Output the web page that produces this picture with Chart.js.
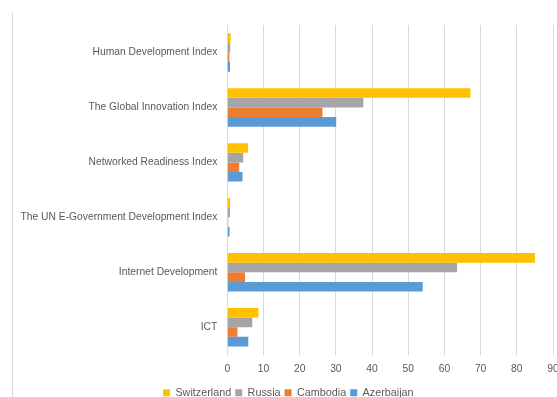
<!DOCTYPE html>
<html><head><meta charset="utf-8">
<script src="https://cdn.jsdelivr.net/npm/chart.js@4"></script>
<style>
html,body{margin:0;padding:0;background:#fff;overflow:hidden;width:557px;height:397px;}
#wrap{position:relative;width:580px;height:410px;}
#frame{position:absolute;left:12px;top:13px;width:1px;height:400px;background:#d9d9d9;}
</style></head><body>
<div id="wrap"><canvas id="c" width="580" height="410"></canvas><div id="frame"></div></div>
<script>
const categories = ["Human Development Index", "The Global Innovation Index", "Networked Readiness Index", "The UN E-Government Development Index", "Internet Development", "ICT"];
const switzerland = [0.94, 67.2, 5.7, 0.76, 85.0, 8.6];
const russia = [0.80, 37.6, 4.4, 0.73, 63.5, 6.9];
const cambodia = [0.56, 26.3, 3.3, 0.26, 4.9, 2.8];
const azerbaijan = [0.76, 30.1, 4.2, 0.63, 54.0, 5.8];
const xTicks = [0, 10, 20, 30, 40, 50, 60, 70, 80, 90];

const textColor = '#595959';
const legendShift = {
  id: 'legendShift',
  afterLayout(chart) {
    if (chart.legend) { chart.legend.left += 23.6; }
  }
};

new Chart(document.getElementById('c'), {
  type: 'bar',
  data: {
    labels: categories,
    datasets: [
      { label: 'Switzerland', data: switzerland, backgroundColor: '#FFC000' },
      { label: 'Russia', data: russia, backgroundColor: '#A5A5A5' },
      { label: 'Cambodia', data: cambodia, backgroundColor: '#ED7D31' },
      { label: 'Azerbaijan', data: azerbaijan, backgroundColor: '#5B9BD5' }
    ]
  },
  options: {
    indexAxis: 'y',
    responsive: false,
    animation: false,
    devicePixelRatio: 1,
    categoryPercentage: 0.7,
    barPercentage: 1.0,
    layout: { padding: { top: 25, right: 27, bottom: 1.75, left: 0 } },
    scales: {
      x: {
        min: 0, max: 90,
        afterBuildTicks(scale) { scale.ticks = xTicks.map(v => ({ value: v })); },
        afterFit(scale) { scale.height = 28.75; },
        grid: { color: '#D9D9D9', drawTicks: false, lineWidth: 1 },
        border: { display: false },
        ticks: { color: textColor, padding: 8, font: { family: 'Liberation Sans', size: 10.3 } }
      },
      y: {
        afterFit(scale) { scale.width = 227.3; },
        grid: { display: false, drawTicks: false },
        border: { display: false },
        ticks: { color: textColor, padding: 10, font: { family: 'Liberation Sans', size: 10.3 } }
      }
    },
    plugins: {
      tooltip: { enabled: false },
      legend: {
        position: 'bottom',
        labels: {
          boxWidth: 7, boxHeight: 7, padding: 4,
          color: textColor,
          font: { family: 'Liberation Sans', size: 10.8 }
        }
      }
    }
  },
  plugins: [legendShift]
});
</script>
</body></html>
